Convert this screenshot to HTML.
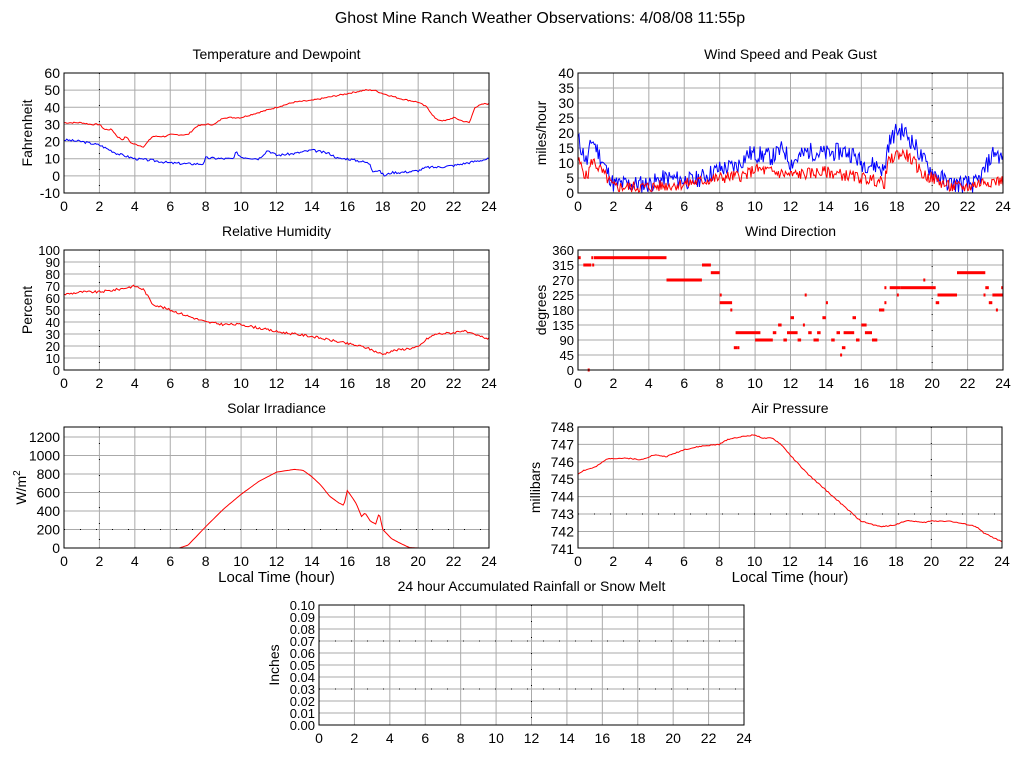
<!DOCTYPE html>
<html><head><meta charset="utf-8"><style>
body{margin:0;background:#fff;width:1024px;height:768px;overflow:hidden}
svg{display:block;font-family:"Liberation Sans",sans-serif}
</style></head><body>
<svg id="s" width="1024" height="768" xmlns="http://www.w3.org/2000/svg">
<text x="540" y="23" font-size="16" text-anchor="middle">Ghost Mine Ranch Weather Observations: 4/08/08 11:55p</text>
</svg>
<script>
var S=document.getElementById('s'),out='';
function rnd(seed){var s=seed;return function(){s=(s*9301+49297)%233280;return s/233280;}}
function interp(k,h){for(var i=0;i<k.length-1;i++){if(h<=k[i+1][0]){var a=k[i],b=k[i+1],t=(h-a[0])/(b[0]-a[0]||1);return a[1]+t*(b[1]-a[1]);}}return k[k.length-1][1];}
function chart(o){
 var x0=o.x,x1=o.x+o.w,y0=o.y,y1=o.y+o.h,top=o.top||y0;
 var g='';
 for(var i=1;i<12;i++){var x=x0+i*o.w/12;g+='<line x1="'+x+'" y1="'+top+'" x2="'+x+'" y2="'+y1+'" stroke="#aaa"/>';}
 o.yt.forEach(function(v,i){var y=o.ymap(v);if(y>top+0.5&&y<y1-0.5)g+='<line x1="'+x0+'" y1="'+y+'" x2="'+x1+'" y2="'+y+'" stroke="#aaa"/>';
  g+='<text x="'+(x0-4)+'" y="'+(y+5)+'" font-size="'+(o.fs||14)+'" text-anchor="end">'+(o.lab?o.lab(v):v)+'</text>';});
 (o.vd||[]).forEach(function(h){var x=x0+h/24*o.w;g+='<line x1="'+x+'" y1="'+top+'" x2="'+x+'" y2="'+y1+'" stroke="#000" stroke-dasharray="1,15"/>';});
 (o.hd||[]).forEach(function(v){var y=o.ymap(v);g+='<line x1="'+x0+'" y1="'+y+'" x2="'+x1+'" y2="'+y+'" stroke="#000" stroke-dasharray="1,15"/>';});
 for(var i=0;i<=12;i++){var x=x0+i*o.w/12;g+='<text x="'+x+'" y="'+(y1+18)+'" font-size="14" text-anchor="middle">'+(i*2)+'</text>';}
 g+='<text x="'+(x0+o.w/2)+'" y="'+(top-14)+'" font-size="14" text-anchor="middle">'+o.title+'</text>';
 g+='<text transform="translate('+(x0-o.yoff)+','+(top+(y1-top)/2)+') rotate(-90)" font-size="14" text-anchor="middle">'+o.ylab+'</text>';
 if(o.xlab)g+='<text x="'+(x0+o.w/2)+'" y="'+(y1+34)+'" font-size="15" text-anchor="middle">Local Time (hour)</text>';
 (o.series||[]).forEach(function(s){var p=[],r=rnd(s.seed||7);for(var i=0;i<=s.n;i++){var h=24*i/s.n,v=interp(s.k,h)+(s.j?(r()-0.5)*2*s.j:0);if(s.min!=null)v=Math.max(s.min,v);p.push((x0+h/24*o.w).toFixed(1)+','+o.ymap(v).toFixed(1));}
  g+='<polyline points="'+p.join(' ')+'" fill="none" stroke="'+s.c+'" stroke-width="1"/>';});
 if(o.extra)g+=o.extra;
 g+='<rect x="'+x0+'" y="'+top+'" width="'+o.w+'" height="'+(y1-top)+'" fill="none" stroke="#000"/>';
 out+=g;
}
function lin(a,b,vmin,vmax){return function(v){return b-(v-vmin)/(vmax-vmin)*(b-a);}}
chart({x:64,y:73,w:425,h:120,title:'Temperature and Dewpoint',ylab:'Fahrenheit',yoff:32,ymap:lin(73,193,-10,60),yt:[-10,0,10,20,30,40,50,60],vd:[2],
 series:[{c:'red',n:300,j:0.4,k:[[0,31],[1,31],[1.5,30],[2,30],[2.3,27],[2.7,27],[3,23],[3.3,21],[3.5,23],[3.8,19],[4.5,17],[5,23],[5.7,23],[6,24],[7,24],[7.5,29],[8,30],[8.5,30],[9,34],[10,34],[11,37],[12,40],[13,43],[14,44],[15,46],[16,48],[17,50],[17.5,50],[18,48],[19,45],[20,43],[20.5,40],[21,33],[21.5,32],[22,34],[22.5,32],[22.9,31],[23.2,40],[23.7,42],[24,42]]},
 {c:'blue',n:300,j:0.7,seed:3,k:[[0,21],[1,20],[2,18],[3,13],[4,10],[5,9],[6,7.5],[7,7],[7.9,7],[8,10.5],[9,10],[9.6,10],[9.7,14],[10,11],[11,10],[11.5,15],[12,12],[13,13],[14,15],[15,13],[15.5,10],[16,10],[17,8],[17.3,7],[17.4,3],[17.8,3],[18.1,0],[18.5,2],[19,2],[20,3],[20.5,5],[21,5],[22,6],[23,8],[23.5,9],[24,10]]}]});
chart({x:578,y:73,w:425,h:120,title:'Wind Speed and Peak Gust',ylab:'miles/hour',yoff:32,ymap:lin(73,193,0,40),yt:[0,5,10,15,20,25,30,35,40],vd:[20],
 series:[{c:'blue',n:420,j:3,seed:11,min:0,k:[[0,18],[0.5,10],[0.8,18],[1.5,9],[2,3],[4,3],[5,5],[6.5,4],[8,8],[9,9],[9.6,13],[10,13],[11,12],[11.6,15],[12,10],[13,14],[14,13],[15,14],[15.5,13],[16,10],[17,9],[17.3,7],[17.5,16],[18,21],[18.5,20],[19,16],[19.5,11],[20,7],[21,3],[22,3],[22.5,3],[23,8],[23.5,14],[24,11]]},
 {c:'red',n:420,j:2,seed:5,min:0,k:[[0,11],[0.5,5],[0.8,11],[1.5,6],[2,2],[4,2],[6,3],[8,5],[9.5,6],[10,8],[12,6],[14,7],[16,5],[17,4],[17.3,3],[17.5,10],[18,13],[18.5,13],[19,10],[19.5,6],[20,5],[21,2],[22,2],[23,4],[24,4]]}]});
chart({x:64,y:250,w:425,h:120,title:'Relative Humidity',ylab:'Percent',yoff:32,ymap:lin(250,370,0,100),yt:[0,10,20,30,40,50,60,70,80,90,100],fs:13,vd:[2],
 series:[{c:'red',n:300,j:1,seed:9,k:[[0,63],[1,65],[2,65],[3,67],[4,70],[4.5,67],[5,55],[6,50],[7,45],[8,40],[9,38],[10,38],[11,35],[12,32],[13,30],[14,28],[15,25],[16,22],[17,19],[18,13],[18.5,16],[19,17],[20,19],[20.5,26],[21,30],[22,31],[22.5,33],[23,30],[24,26]]}]});
var dx=function(h){return 578+h/24*425},dy=function(v){return 370-v/3};
var segs=[[0,0.15,337],[0.3,0.75,315],[0.55,0.65,0],[0.75,0.8,337],[0.8,0.9,315],[0.9,5,337],[5,7,270],[7,7.5,315],[7.5,8,292],[8,8.05,225],[8,8.7,202],[8.6,8.7,180],[8.8,9,67],[9,9.1,67],[8.9,10.3,112],[10,11,90],[11,11.2,112],[11.3,11.5,135],[11.6,11.8,90],[11.8,12.4,112],[12,12.2,157],[12.4,12.6,90],[12.7,12.8,135],[12.8,12.9,225],[13,13.2,112],[13.3,13.6,90],[13.5,13.7,112],[13.8,14,157],[14,14.1,202],[14.3,14.5,90],[14.6,14.8,112],[14.8,14.9,45],[14.9,15.1,67],[15,15.6,112],[15.5,15.7,157],[15.7,15.9,90],[16,16.3,135],[16.2,16.6,112],[16.6,16.9,90],[17,17.3,180],[17.3,17.4,247],[17.3,17.4,202],[17.6,18.2,247],[18,18.1,225],[18.2,20.2,247],[19.5,19.6,270],[20.2,20.4,202],[20.3,21.4,225],[21.4,23,292],[22.9,23,225],[23,23.2,247],[23.2,23.4,202],[23.4,24,225],[23.6,23.7,180],[23.9,24,247]];
var ex='';segs.forEach(function(s){ex+='<rect x="'+dx(s[0]).toFixed(1)+'" y="'+(dy(s[2])-1.5).toFixed(1)+'" width="'+Math.max(2,dx(s[1])-dx(s[0])).toFixed(1)+'" height="3" fill="red"/>';});
chart({x:578,y:250,w:425,h:120,title:'Wind Direction',ylab:'degrees',yoff:32,ymap:lin(250,370,0,360),yt:[0,45,90,135,180,225,270,315,360],fs:13,vd:[20],extra:ex});
chart({x:64,y:437,top:427,w:425,h:111,title:'Solar Irradiance',ylab:'W/m<tspan dy="-6" font-size="10">2</tspan>',yoff:38,ymap:lin(437,548,0,1200),yt:[0,200,400,600,800,1000,1200],xlab:1,vd:[2],hd:[200],
 series:[{c:'red',n:300,j:0,k:[[0,0],[6.5,0],[7,30],[8,230],[9,420],[10,580],[11,720],[12,820],[13,850],[13.5,840],[14,770],[14.5,680],[15,560],[15.5,490],[15.8,460],[16,620],[16.3,540],[16.5,480],[16.8,340],[17,380],[17.3,290],[17.6,260],[17.8,380],[18,200],[18.5,100],[19,50],[19.5,5],[20,0],[24,0]]}]});
chart({x:578,y:427,w:424,h:121,title:'Air Pressure',ylab:'millibars',yoff:38,ymap:lin(427,548,741.05,748.0),yt:[741,742,743,744,745,746,747,748],xlab:1,vd:[20],hd:[743],
 series:[{c:'red',n:300,j:0.03,seed:2,k:[[0,745.3],[0.3,745.5],[1,745.7],[1.7,746.2],[3,746.2],[3.5,746.1],[4.3,746.4],[5,746.3],[6,746.7],[7,746.9],[8,747.0],[8.5,747.3],[9,747.4],[10,747.55],[10.5,747.35],[11,747.35],[11.5,747],[12,746.4],[13,745.3],[14,744.4],[15,743.5],[16,742.6],[17,742.3],[17.5,742.3],[18,742.4],[18.5,742.6],[19,742.6],[19.5,742.5],[20,742.6],[21,742.6],[22,742.4],[22.5,742.3],[23,741.9],[24,741.4]]}]});
chart({x:319,y:605,w:425,h:120,title:'24 hour Accumulated Rainfall or Snow Melt',ylab:'Inches',yoff:40,ymap:lin(605,725,0,0.1),yt:[0,0.01,0.02,0.03,0.04,0.05,0.06,0.07,0.08,0.09,0.1],lab:function(v){return v.toFixed(2)},fs:13,vd:[12],hd:[0.03,0.07],
 series:[{c:'red',n:2,j:0,k:[[0,0],[24,0]]}]});
S.innerHTML+=out;
</script>
</body></html>
